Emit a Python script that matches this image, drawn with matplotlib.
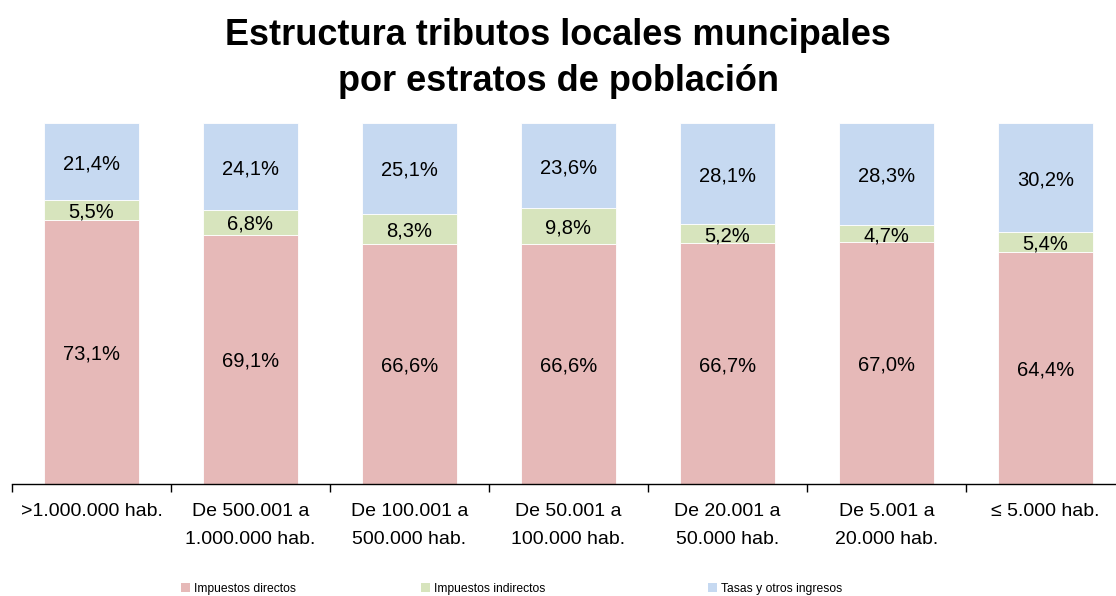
import matplotlib
matplotlib.use("Agg")
import matplotlib.pyplot as plt
from matplotlib.patches import Patch

plt.rcParams['font.family'] = ['Liberation Sans', 'DejaVu Sans']

categories = [">1.000.000 hab.", "De 500.001 a\n1.000.000 hab.", "De 100.001 a\n500.000 hab.",
              "De 50.001 a\n100.000 hab.", "De 20.001 a\n50.000 hab.", "De 5.001 a\n20.000 hab.",
              "\u2264 5.000 hab."]
directos = [73.1, 69.1, 66.6, 66.6, 66.7, 67.0, 64.4]
indirectos = [5.5, 6.8, 8.3, 9.8, 5.2, 4.7, 5.4]
tasas = [21.4, 24.1, 25.1, 23.6, 28.1, 28.3, 30.2]
series_names = ["Impuestos directos", "Impuestos indirectos", "Tasas y otros ingresos"]
colors = ["#E6B9B8", "#D7E4BD", "#C6D9F1"]

W, H = 1116, 596
fig = plt.figure(figsize=(W / 100, H / 100), dpi=100)
ax = fig.add_axes([12 / W, (H - 484) / H, 1104 / W, (484 - 123) / H])

x = list(range(len(categories)))
bottoms = [0.0] * len(categories)
for vals, col in zip([directos, indirectos, tasas], colors):
    ax.bar(x, vals, width=0.6, bottom=bottoms, color=col, edgecolor="white", linewidth=0.6)
    for xi, b, v in zip(x, bottoms, vals):
        ax.text(xi, b + v / 2, f"{v:.1f}%".replace(".", ","), ha="center", va="center_baseline",
                fontsize=14.5, color="black")
    bottoms = [b + v for b, v in zip(bottoms, vals)]

ax.set_ylim(0, 100)
ax.set_xlim(-0.5, -0.5 + 1104 / 159)
for s in ["left", "right", "top"]:
    ax.spines[s].set_visible(False)
ax.spines["bottom"].set_color("black")
ax.spines["bottom"].set_linewidth(1.0)
ax.set_yticks([])
ax.set_xticks(x)
ax.set_xticklabels(categories, fontsize=14, linespacing=1.8)
ax.tick_params(axis="x", which="major", length=0, pad=14)
ax.set_xticks([i - 0.5 for i in range(len(categories))], minor=True)
ax.tick_params(axis="x", which="minor", length=6, width=1, color="black")

fig.suptitle("Estructura tributos locales muncipales\npor estratos de población",
             fontsize=26, fontweight="bold", y=(H - 18) / H, va="top", linespacing=1.4)

leg_x = [181, 421, 708]
for name, col, lx in zip(series_names, colors, leg_x):
    fig.legend(handles=[Patch(facecolor=col, edgecolor="none")], labels=[name],
               loc="center left", bbox_to_anchor=(lx / W, (H - 589) / H), frameon=False,
               fontsize=8.7, handlelength=0.75, handleheight=0.75,
               handletextpad=0.3, borderpad=0, borderaxespad=0)

fig.savefig("out.png", dpi=100)
